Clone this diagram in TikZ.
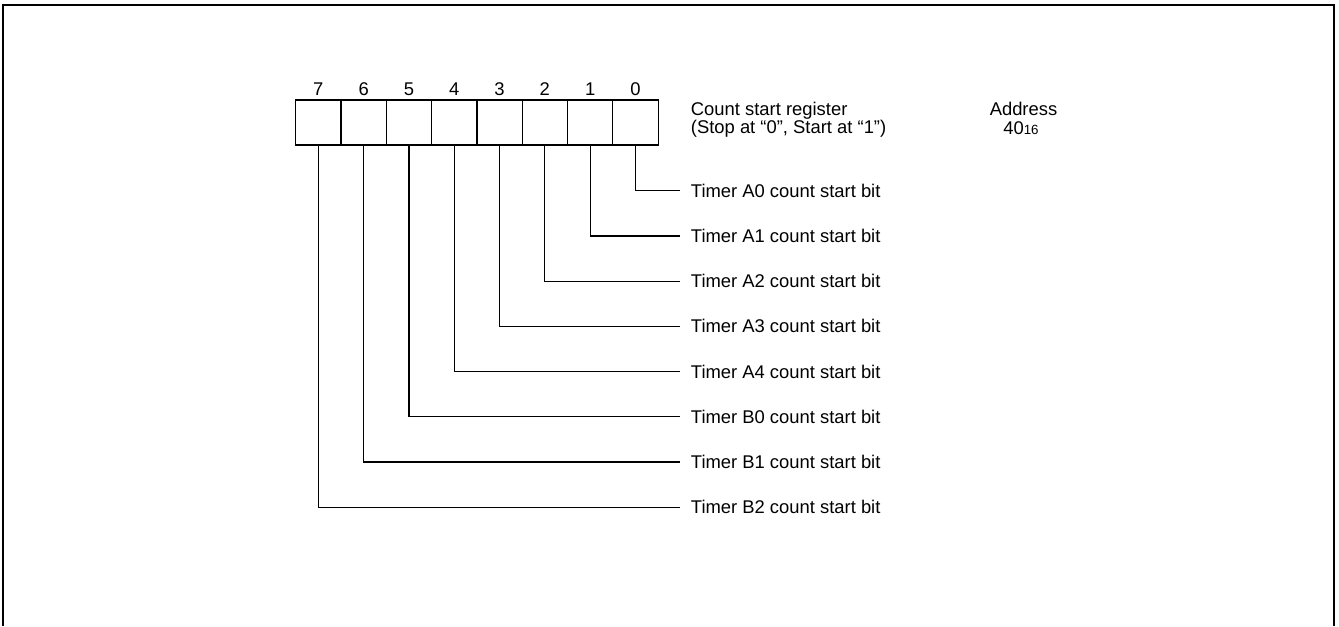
\documentclass[tikz,border=0pt]{standalone}
\usepackage{fontspec}
\setmainfont{Liberation Sans}
\begin{document}
\begin{tikzpicture}[x=0.75pt,y=-0.75pt,
  every node/.style={font=\fontsize{13.8}{14}\selectfont},
  cell/.style={draw,line width=0.9pt,minimum width=33.975pt,minimum height=33.75pt,inner sep=0pt,outer sep=0pt},
  bitnum/.style={anchor=base,inner sep=0pt},
  label/.style={anchor=west,inner xsep=8pt,inner ysep=0pt},
  info/.style={anchor=base west,inner xsep=8pt,inner ysep=0pt},
  leader/.style={line width=0.9pt},
  frame/.style={line width=1.5pt}]
\useasboundingbox (0,0) rectangle (1339,626);
% frame (open at bottom)
\draw[frame] (2.7,626) -- (2.7,5) -- (1333.7,5) -- (1333.7,626);
% register cells, bit 7 at left
\foreach \b [count=\i from 0] in {7,6,5,4,3,2,1,0} {
  \node[cell] (c\b) at ({295.7+45.3*(\i+0.5)},122.5) {};
  \node[bitnum] (n\b) at ({295.7+45.3*(\i+0.5)},95.7) {\b};
}
% register description
\node[info] (reg1) at (680,115) {Count start register};
\node[info] (reg2) at (680,133.7) {(Stop at “0”, Start at “1”)};
\node[anchor=base,inner sep=0pt] (addr1) at (1023.5,115) {Address};
\node[anchor=base,inner sep=0pt] (addr2) at (1021,134.3) {40{\fontsize{10}{10}\selectfont 16}};
% bit labels
\foreach \b/\t in {0/Timer A0,1/Timer A1,2/Timer A2,3/Timer A3,4/Timer A4,5/Timer B0,6/Timer B1,7/Timer B2} {
  \node[label] (t\b) at (680,{190.7+45.2*\b}) {\t{} count start bit};
  \draw[leader] (c\b.south) |- (t\b.west);
}
\end{tikzpicture}
\end{document}
